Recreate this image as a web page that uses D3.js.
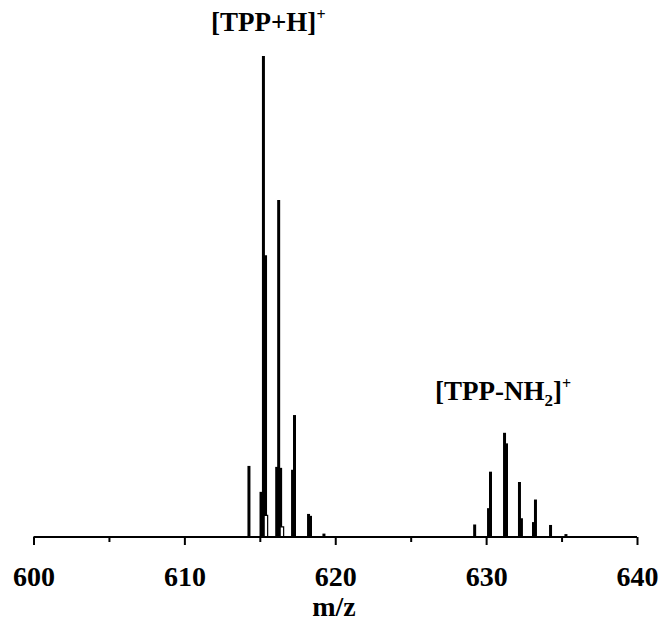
<!DOCTYPE html>
<html>
<head>
<meta charset="utf-8">
<script src="https://cdn.jsdelivr.net/npm/d3@7"></script>
<style>
  body { margin: 0; background: #fff; }
  text { font-family: 'Liberation Serif', 'Times New Roman', serif; font-weight: bold; }
</style>
</head>
<body>
<div id="chart"></div>
<script>
// stick spectrum (m/z, relative intensity %)
var stickMz = [614.28, 615.08, 615.24, 615.38, 616.12, 616.25, 616.38, 617.17, 617.30, 618.23, 618.36, 619.25,
               629.24, 630.16, 630.29, 631.22, 631.35, 632.21, 632.34, 633.14, 633.27, 634.27, 635.29];
var stickInt = [14.6, 9.2, 100, 58.5, 14.4, 70, 14.2, 13.8, 25.2, 4.6, 4.2, 0.5,
                2.4, 5.8, 13.4, 21.5, 19.3, 11.25, 3.7, 2.9, 7.6, 2.3, 0.4];
// small outlined peaks near the baseline
var hollowMz = [615.42, 616.48];
var hollowInt = [4.3, 1.9];

var majorTicks = [600, 610, 620, 630, 640];
var minorTicks = [605, 615, 625, 635];

var width = 662, height = 621;
var x0 = 33.5, x1 = 637, y0 = 536, yTop = 56;

var svg = d3.select('#chart').append('svg')
    .attr('width', width)
    .attr('height', height);

var xScale = d3.scaleLinear().domain([600, 640]).range([x0, x1]);
var yScale = d3.scaleLinear().domain([0, 100]).range([y0, yTop]);

// sticks
svg.append('g').selectAll('line')
    .data(stickMz)
    .enter()
    .append('line')
    .attr('x1', function (d) { return xScale(d); })
    .attr('x2', function (d) { return xScale(d); })
    .attr('y1', yScale(0))
    .attr('y2', function (d, i) { return yScale(stickInt[i]); })
    .attr('stroke', '#000')
    .attr('stroke-width', 3);

// hollow peaks
svg.append('g').selectAll('path')
    .data(hollowMz)
    .enter()
    .append('path')
    .attr('d', function (d, i) {
        var cx = xScale(d), top = yScale(hollowInt[i]);
        return 'M' + (cx - 2) + ',' + yScale(0) + 'V' + top + 'H' + (cx + 1.5) + 'V' + yScale(0);
    })
    .attr('fill', '#fff')
    .attr('stroke', '#000')
    .attr('stroke-width', 1.2);

// axis
var axisY = 537;
var xAxis = d3.axisBottom(xScale)
    .tickValues(majorTicks)
    .tickSize(8)
    .tickSizeOuter(0)
    .tickFormat(d3.format('d'));
var gx = svg.append('g')
    .attr('transform', 'translate(0,' + axisY + ')')
    .call(xAxis);
gx.select('.domain').attr('stroke-width', 2).attr('d', 'M' + x0 + ',0H' + x1);
gx.selectAll('.tick line').attr('stroke-width', 2);
gx.selectAll('.tick text')
    .attr('y', 29)
    .attr('dy', '0.71em')
    .attr('font-size', 28)
    .attr('font-family', 'Liberation Serif')
    .attr('fill', '#000');

var minorAxis = d3.axisBottom(xScale)
    .tickValues(minorTicks)
    .tickSize(5)
    .tickSizeOuter(0)
    .tickFormat('');
var gm = svg.append('g')
    .attr('transform', 'translate(0,' + axisY + ')')
    .call(minorAxis);
gm.select('.domain').remove();
gm.selectAll('.tick line').attr('stroke-width', 2);

// axis title
svg.append('text')
    .attr('x', 334)
    .attr('y', 616)
    .attr('text-anchor', 'middle')
    .style('font-size', '28px')
    .text('m/z');

// peak labels
var lab1 = svg.append('text')
    .attr('x', 211)
    .attr('y', 31)
    .style('font-size', '27px');
lab1.append('tspan').text('[TPP+H]');
lab1.append('tspan').attr('dy', -11).style('font-size', '16px').text('+');

var lab2 = svg.append('text')
    .attr('x', 435)
    .attr('y', 400)
    .style('font-size', '27px');
lab2.append('tspan').text('[TPP-NH');
lab2.append('tspan').attr('dy', 6).style('font-size', '17px').text('2');
lab2.append('tspan').attr('dy', -6).text(']');
lab2.append('tspan').attr('dy', -11).style('font-size', '16px').text('+');
</script>
</body>
</html>
